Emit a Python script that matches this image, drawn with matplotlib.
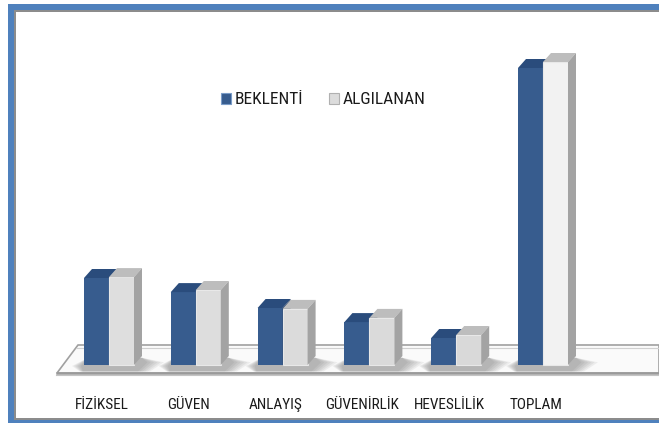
import matplotlib.pyplot as plt
import numpy as np
from matplotlib.patches import Polygon, Rectangle, Patch
from matplotlib.colors import to_rgb

plt.rcParams['font.family'] = ['Roboto Condensed', 'Open Sans Condensed', 'Liberation Sans Narrow',
                               'Lato', 'DejaVu Sans']

kategoriler = ["FİZİKSEL", "GÜVEN", "ANLAYIŞ", "GÜVENİRLİK", "HEVESLİLİK", "TOPLAM"]
beklenti = [29.0, 24.3, 19.0, 14.3, 9.0, 99.0]
algilanan = [29.3, 25.0, 18.7, 15.7, 10.0, 101.0]
seriler = ["BEKLENTİ", "ALGILANAN"]

W, H = 659, 423
fig = plt.figure(figsize=(W / 100, H / 100), dpi=100)

# frame, in pixel coords
bg = fig.add_axes([0, 0, 1, 1])
bg.set_xlim(0, W)
bg.set_ylim(H, 0)
bg.axis('off')
mavi = '#4F81BD'
bg.add_patch(Rectangle((8, 4), W - 8, 6, color=mavi, lw=0))
bg.add_patch(Rectangle((8, 4), 6, H - 4, color=mavi, lw=0))
bg.add_patch(Rectangle((8, 420.5), W - 8, 3, color=mavi, lw=0))
bg.add_patch(Rectangle((14, 10), W - 14, 2, color='#8C8C8C', lw=0))
bg.add_patch(Rectangle((14, 10), 2, 409, color='#8C8C8C', lw=0))
bg.add_patch(Rectangle((14, 418), W - 14, 1.6, color='#8C8C8C', lw=0))

# main axes: 1 category = 86.8 px, 1 value unit = 3 px, zero at y=365 px
sx, sy = 86.8, 3.0
x0, y0 = 109, 365
ax = fig.add_axes([0, 0, 1, 1], zorder=2)
ax.patch.set_alpha(0)
ax.set_xlim(-x0 / sx, (W - x0) / sx)
ax.set_ylim((y0 - H) / sy, y0 / sy)
ax.axis('off')

def px(dx):
    return dx / sx

def py(dy):
    return dy / sy

# floor
yf, yb = py(y0 - 373), py(y0 - 345)
xl = px(57 - x0)
xr = px(W - x0)
ax.add_patch(Polygon([(xl, yf), (xl + px(21), yb), (xr, yb), (xr, yf)],
                     closed=True, facecolor='#FAFAFA', edgecolor='#A0A0A0', lw=1.2, zorder=1))
ax.plot([xl + px(19), xr], [yb - py(3), yb - py(3)], color='#D0D0D0', lw=0.8, zorder=1)
ax.plot([xl, xr], [yf, yf], color='#9A9A9A', lw=1.8, zorder=1)
ax.plot([xl - px(1), xr], [yf - py(2), yf - py(2)], color='#C4C4C4', lw=0.8, zorder=1)

x = np.arange(len(kategoriler))
w = px(25)
ddx, ddy = px(8), py(9)

b1 = ax.bar(x - w / 2, beklenti, w, color='#375C8E', zorder=3, lw=0)
b2 = ax.bar(x + w / 2, algilanan, w, color='#DADADA', zorder=3, lw=0)

vmax = max(algilanan)
acik, koyu = np.array(to_rgb('#F2F2F2')), np.array(to_rgb('#D6D6D6'))

for i, (r1, r2) in enumerate(zip(b1, b2)):
    # soft shadow on the floor
    xa1 = r1.get_x()
    bx = r2.get_x() + r2.get_width()
    for k in range(6):
        s = 1 - k * 0.15
        ax.add_patch(Polygon([(xa1 + px(4), ddy * 0.8), (bx + ddx, ddy * 0.8),
                              (bx + ddx + px(22) * s, ddy * 0.3), (bx + px(16) * s, yf + py(1.5)),
                              (xa1 - px(4) * s, yf + py(1.5)), (xa1 - px(12) * s, py(-1))],
                             closed=True, facecolor='#4A4A4A', alpha=0.075, lw=0, zorder=2))
    for r, top, side, z in [(r1, '#2A4C7C', '#243F66', 3), (r2, '#BDBDBD', '#A3A3A3', 4)]:
        xa, xb, h = r.get_x(), r.get_x() + r.get_width(), r.get_height()
        r.set_zorder(z)
        ax.add_patch(Polygon([(xa, h), (xa + ddx, h + ddy), (xb + ddx, h + ddy), (xb, h)],
                             closed=True, facecolor=top, lw=0, zorder=z))
        ax.add_patch(Polygon([(xb, 0), (xb + ddx, ddy), (xb + ddx, h + ddy), (xb, h)],
                             closed=True, facecolor=side, lw=0, zorder=z))
    t = r2.get_height() / vmax
    r2.set_facecolor(koyu + (acik - koyu) * t)
    r2.set_edgecolor('#E8E8E8')
    r2.set_linewidth(0.8)

for i, k in enumerate(kategoriler):
    ax.text(x[i] - px(7), py(y0 - 409), k, ha='center', va='baseline',
            fontsize=11, color='#1A1A1A', zorder=5)

handles = [Patch(facecolor='#375C8E', edgecolor='#7A9CC8', lw=0.8),
           Patch(facecolor='#DCDCDC', edgecolor='#B0B0B0', lw=0.8)]
fig.legend(handles, seriler, loc='center left', bbox_to_anchor=(221 / W, 1 - 100 / H),
           ncol=2, frameon=False, fontsize=12.5, handlelength=0.55, handleheight=0.55,
           handletextpad=0.22, columnspacing=1.5, borderpad=0, borderaxespad=0,
           labelcolor='#1A1A1A')

fig.savefig('out.png', dpi=100)
